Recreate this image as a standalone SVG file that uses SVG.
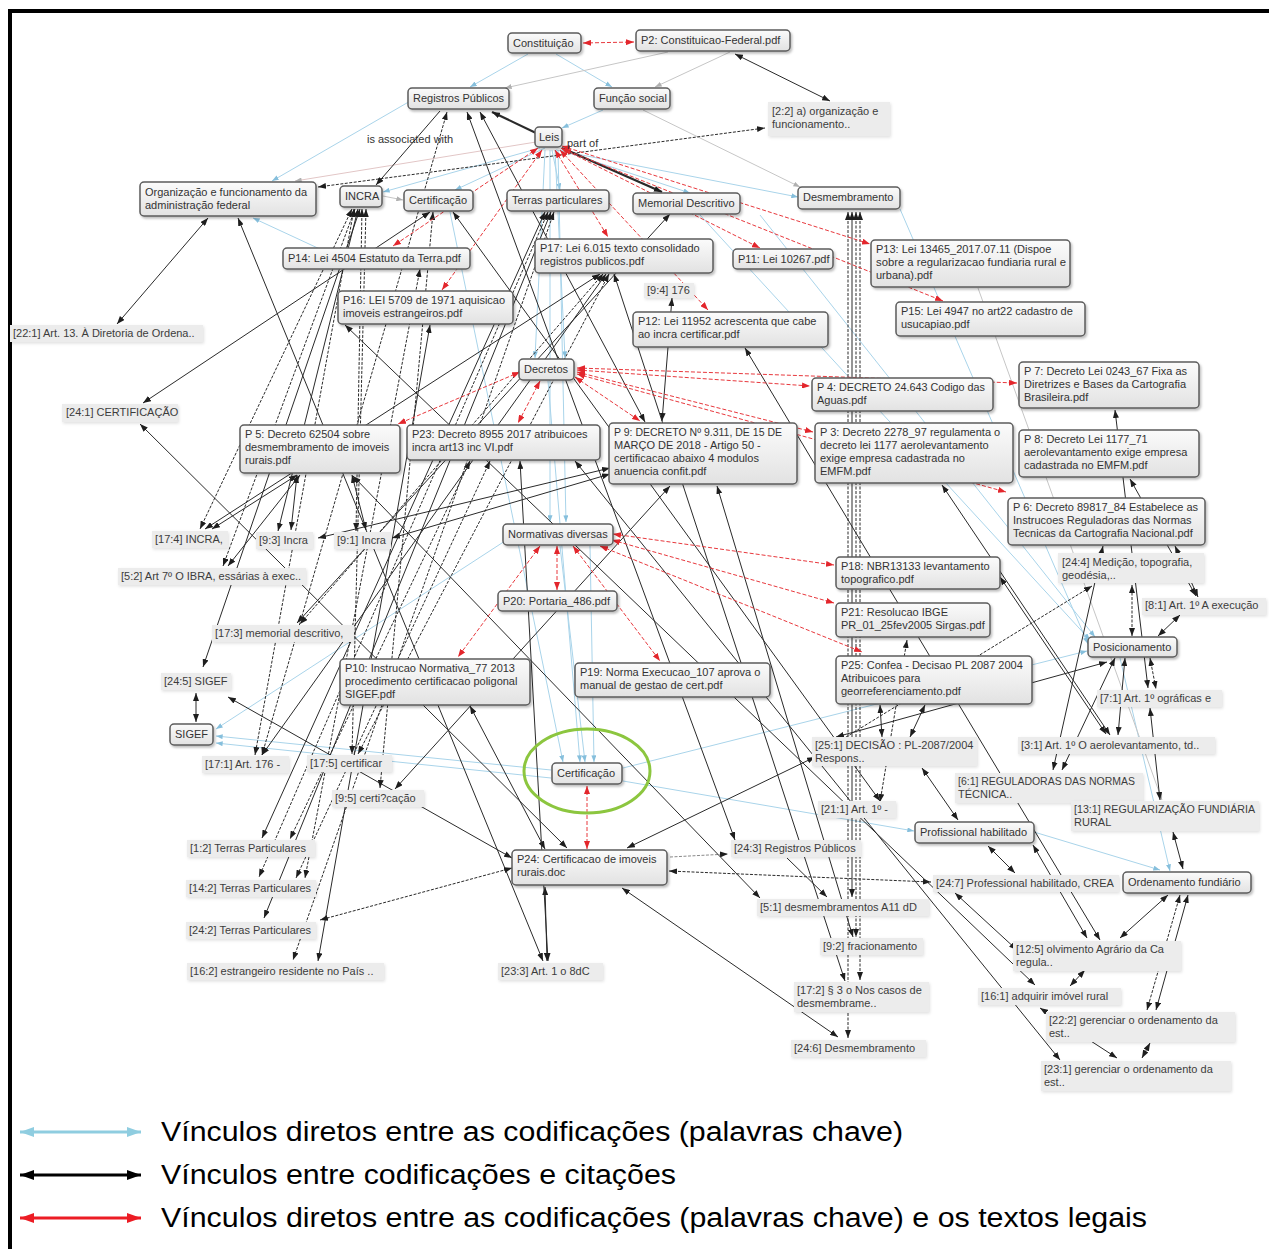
<svg xmlns="http://www.w3.org/2000/svg" width="1269" height="1249" viewBox="0 0 1269 1249">
<defs>
<linearGradient id="ng" x1="0" y1="0" x2="0" y2="1"><stop offset="0" stop-color="#fbfbfb"/><stop offset="1" stop-color="#e2e2e2"/></linearGradient>
<filter id="sh" x="-10%" y="-20%" width="130%" height="160%"><feDropShadow dx="1.5" dy="2" stdDeviation="1.2" flood-color="#000" flood-opacity="0.25"/></filter>
<filter id="sq" x="-10%" y="-20%" width="130%" height="160%"><feDropShadow dx="1" dy="1.5" stdDeviation="1.5" flood-color="#000" flood-opacity="0.12"/></filter>
<marker id="ak" viewBox="0 0 8 6" refX="8" refY="3" markerWidth="8" markerHeight="6" markerUnits="userSpaceOnUse" orient="auto-start-reverse"><path d="M0,0 L8,3 L0,6 z" fill="#1e1e1e"/></marker>
<marker id="ar" viewBox="0 0 8 6" refX="8" refY="3" markerWidth="8" markerHeight="6" markerUnits="userSpaceOnUse" orient="auto-start-reverse"><path d="M0,0 L8,3 L0,6 z" fill="#e3262c"/></marker>
<marker id="ab" viewBox="0 0 8 6" refX="8" refY="3" markerWidth="7" markerHeight="5" markerUnits="userSpaceOnUse" orient="auto-start-reverse"><path d="M0,0 L8,3 L0,6 z" fill="#86bfdc"/></marker>
<marker id="ag" viewBox="0 0 8 6" refX="8" refY="3" markerWidth="7" markerHeight="5" markerUnits="userSpaceOnUse" orient="auto-start-reverse"><path d="M0,0 L8,3 L0,6 z" fill="#b0b0b0"/></marker>
<marker id="lb" viewBox="0 0 14 10" refX="14" refY="5" markerWidth="14" markerHeight="10" markerUnits="userSpaceOnUse" orient="auto-start-reverse"><path d="M0,0 L14,5 L0,10 z" fill="#8fcde0"/></marker>
<marker id="lk" viewBox="0 0 14 10" refX="14" refY="5" markerWidth="14" markerHeight="10" markerUnits="userSpaceOnUse" orient="auto-start-reverse"><path d="M0,0 L14,5 L0,10 z" fill="#000"/></marker>
<marker id="lr" viewBox="0 0 14 10" refX="14" refY="5" markerWidth="14" markerHeight="10" markerUnits="userSpaceOnUse" orient="auto-start-reverse"><path d="M0,0 L14,5 L0,10 z" fill="#ec1c24"/></marker>
<style>
.k{stroke:#2a2a2a;stroke-width:1;fill:none;marker-start:url(#ak);marker-end:url(#ak)}
.kd{stroke-dasharray:3 1.5}
.kb{stroke-width:2.2}
.ke{marker-start:none}
.kg{stroke:#8a8a8a}
.r{stroke:#e8383d;stroke-width:1;stroke-dasharray:4 2;fill:none;marker-start:url(#ar);marker-end:url(#ar)}
.b{stroke:#a9d4ea;stroke-width:1;fill:none;marker-end:url(#ab)}
.g{stroke:#c6c6c6;stroke-width:1;fill:none;marker-end:url(#ag)}
.p{stroke:#e2c6c6;stroke-width:1;fill:none;marker-end:url(#ag)}
.n rect{fill:url(#ng);stroke:#5c5c5c;stroke-width:1.5;filter:url(#sh)}
.q rect{fill:#ececec;filter:url(#sq)}
.n text,.q text,.lbl{font-family:"Liberation Sans",Arial,sans-serif;font-size:11px;fill:#333}
.q text{fill:#3c3c3c}
.leg{font-family:"Liberation Sans",Arial,sans-serif;font-size:27px;fill:#000}
</style>
</defs>
<rect width="1269" height="1249" fill="#fff"/>
<!-- frame -->
<path d="M10,1249 V11 H1269" fill="none" stroke="#000" stroke-width="4"/>

<g id="connectors">
<g id="links-blue">
<line class="b" x1="528" y1="54" x2="470" y2="87"/>
<line class="b" x1="556" y1="54" x2="612" y2="87"/>
<line class="g" x1="668" y1="52" x2="505" y2="88"/>
<line class="g" x1="730" y1="52" x2="655" y2="87"/>
<line class="b" x1="412" y1="100" x2="272" y2="181"/>
<line class="b" x1="603" y1="110" x2="562" y2="128"/>
<line class="g" x1="643" y1="110" x2="800" y2="187"/>
<line class="b" x1="545" y1="148" x2="455" y2="190"/>
<line class="b" x1="556" y1="150" x2="798" y2="197"/>
<line class="p" x1="536" y1="142" x2="295" y2="181"/>
<line class="b" x1="322" y1="250" x2="253" y2="218"/>
<line class="b" x1="540" y1="148" x2="383" y2="192"/>
<line class="b" x1="552" y1="150" x2="560" y2="190"/>
<line class="b" x1="560" y1="150" x2="690" y2="193"/>
<line class="b" x1="545" y1="150" x2="535" y2="358"/>
<line class="b" x1="555" y1="150" x2="565" y2="358"/>
<line class="b" x1="550" y1="150" x2="550" y2="522"/>
<line class="b" x1="558" y1="150" x2="566" y2="522"/>
<line class="b" x1="548" y1="381" x2="580" y2="762"/>
<line class="b" x1="560" y1="546" x2="585" y2="762"/>
<line class="b" x1="590" y1="546" x2="594" y2="762"/>
<line class="b" x1="450" y1="212" x2="563" y2="762"/>
<line class="b" x1="551" y1="770" x2="216" y2="736"/>
<line class="b" x1="505" y1="541" x2="216" y2="729"/>
<line class="b" x1="551" y1="778" x2="216" y2="743"/>
<line class="b" x1="623" y1="768" x2="1087" y2="651"/>
<line class="b" x1="623" y1="781" x2="914" y2="831"/>
<line class="b" x1="760" y1="215" x2="1095" y2="637"/>
<line class="b" x1="700" y1="215" x2="1090" y2="640"/>
<line class="b" x1="900" y1="209" x2="1088" y2="644"/>
<line class="b" x1="1120" y1="658" x2="1170" y2="871"/>
<line class="b" x1="1034" y1="832" x2="1160" y2="870"/>
<line class="g" x1="383" y1="196" x2="403" y2="200"/>
<line class="g" x1="978" y1="288" x2="1162" y2="800"/>
</g>
<g id="links-black">
<line class="k" x1="735" y1="54" x2="830" y2="101"/>
<line class="k kd" x1="318" y1="187" x2="765" y2="128"/>
<line class="k ke" x1="440" y1="111" x2="376" y2="185"/>
<line class="k ke kb" x1="536" y1="133" x2="492" y2="112"/>
<line class="k ke kb" x1="562" y1="148" x2="662" y2="192"/>
<line class="k" x1="208" y1="218" x2="117" y2="324"/>
<line class="k" x1="238" y1="218" x2="543" y2="961"/>
<line class="k" x1="430" y1="212" x2="143" y2="403"/>
<line class="k" x1="140" y1="424" x2="567" y2="848"/>
<line class="k" x1="297" y1="475" x2="212" y2="529"/>
<line class="k" x1="297" y1="475" x2="291" y2="530"/>
<line class="k" x1="352" y1="475" x2="366" y2="530"/>
<line class="k" x1="300" y1="475" x2="228" y2="566"/>
<line class="k kd" x1="352" y1="209" x2="200" y2="529"/>
<line class="k kd" x1="355" y1="209" x2="223" y2="566"/>
<line class="k" x1="358" y1="209" x2="278" y2="531"/>
<line class="k kd" x1="362" y1="209" x2="356" y2="531"/>
<line class="k" x1="360" y1="209" x2="203" y2="667"/>
<line class="k kd" x1="354" y1="209" x2="255" y2="755"/>
<line class="k kd" x1="366" y1="209" x2="352" y2="754"/>
<line class="k" x1="610" y1="468" x2="318" y2="538"/>
<line class="k" x1="610" y1="474" x2="392" y2="538"/>
<line class="k" x1="600" y1="274" x2="205" y2="529"/>
<line class="k" x1="670" y1="214" x2="297" y2="623"/>
<line class="k kd" x1="603" y1="274" x2="300" y2="624"/>
<line class="k" x1="606" y1="274" x2="262" y2="755"/>
<line class="k kd" x1="609" y1="274" x2="358" y2="754"/>
<line class="k" x1="614" y1="274" x2="845" y2="981"/>
<line class="k" x1="545" y1="212" x2="262" y2="838"/>
<line class="k kd" x1="548" y1="212" x2="259" y2="877"/>
<line class="k" x1="551" y1="212" x2="264" y2="918"/>
<line class="k kd" x1="554" y1="212" x2="293" y2="960"/>
<line class="k kd" x1="420" y1="269" x2="305" y2="878"/>
<line class="k" x1="430" y1="325" x2="318" y2="961"/>
<line class="k kd" x1="470" y1="461" x2="290" y2="839"/>
<line class="k kd" x1="490" y1="461" x2="296" y2="878"/>
<line class="k" x1="470" y1="706" x2="545" y2="849"/>
<line class="k kd" x1="512" y1="868" x2="320" y2="920"/>
<line class="k" x1="228" y1="697" x2="512" y2="858"/>
<line class="k" x1="196" y1="693" x2="196" y2="722"/>
<line class="k kd" x1="433" y1="212" x2="380" y2="788"/>
<line class="k" x1="670" y1="486" x2="395" y2="789"/>
<line class="k" x1="545" y1="887" x2="547" y2="961"/>
<line class="k ke kd kg" x1="670" y1="857" x2="728" y2="854"/>
<line class="k kd" x1="669" y1="871" x2="931" y2="882"/>
<line class="k" x1="622" y1="888" x2="838" y2="1037"/>
<line class="k ke" x1="787" y1="858" x2="827" y2="897"/>
<line class="k kd" x1="848" y1="212" x2="848" y2="1038"/>
<line class="k" x1="852" y1="212" x2="852" y2="897"/>
<line class="k kd" x1="856" y1="212" x2="856" y2="937"/>
<line class="k kd" x1="860" y1="212" x2="860" y2="980"/>
<line class="k" x1="353" y1="476" x2="760" y2="898"/>
<line class="k" x1="717" y1="486" x2="853" y2="937"/>
<line class="k" x1="745" y1="348" x2="1100" y2="940"/>
<line class="k" x1="672" y1="298" x2="662" y2="421"/>
<line class="k" x1="942" y1="485" x2="1110" y2="735"/>
<line class="k" x1="1130" y1="479" x2="1196" y2="596"/>
<line class="k" x1="1115" y1="410" x2="1148" y2="688"/>
<line class="k" x1="1103" y1="546" x2="1053" y2="770"/>
<line class="k" x1="1115" y1="658" x2="1062" y2="770"/>
<line class="k" x1="1125" y1="658" x2="1118" y2="735"/>
<line class="k kd" x1="1150" y1="658" x2="1156" y2="689"/>
<line class="k kd" x1="1132" y1="636" x2="1132" y2="585"/>
<line class="k" x1="1180" y1="615" x2="1158" y2="636"/>
<line class="k" x1="1175" y1="546" x2="1198" y2="597"/>
<line class="k" x1="880" y1="705" x2="882" y2="737"/>
<line class="k" x1="925" y1="705" x2="910" y2="737"/>
<line class="k" x1="836" y1="737" x2="1107" y2="662"/>
<line class="k kd" x1="838" y1="742" x2="1092" y2="586"/>
<line class="k" x1="815" y1="757" x2="627" y2="848"/>
<line class="k" x1="922" y1="768" x2="958" y2="820"/>
<line class="k kd" x1="907" y1="640" x2="880" y2="802"/>
<line class="k" x1="1000" y1="577" x2="1106" y2="734"/>
<line class="k" x1="1150" y1="708" x2="1160" y2="800"/>
<line class="k" x1="1173" y1="832" x2="1183" y2="869"/>
<line class="k" x1="988" y1="846" x2="1015" y2="873"/>
<line class="k" x1="1033" y1="845" x2="1087" y2="938"/>
<line class="k" x1="1168" y1="895" x2="1120" y2="938"/>
<line class="k kd" x1="1180" y1="895" x2="1147" y2="1010"/>
<line class="k" x1="1188" y1="895" x2="1156" y2="1010"/>
<line class="k" x1="955" y1="893" x2="1017" y2="950"/>
<line class="k" x1="345" y1="325" x2="1035" y2="985"/>
<line class="k" x1="1085" y1="970" x2="1070" y2="986"/>
<line class="k" x1="1040" y1="1008" x2="1117" y2="1058"/>
<line class="k" x1="1150" y1="1043" x2="1142" y2="1058"/>
<line class="k" x1="520" y1="461" x2="548" y2="961"/>
<line class="k" x1="575" y1="461" x2="1060" y2="1060"/>
<line class="k" x1="453" y1="212" x2="880" y2="801"/>
<line class="k" x1="467" y1="112" x2="735" y2="840"/>
<line class="k kd" x1="262" y1="755" x2="447" y2="112"/>
<line class="k" x1="480" y1="112" x2="645" y2="422"/>
</g>
<g id="links-red">
<line class="r" x1="583" y1="43" x2="634" y2="42"/>
<line class="r" x1="562" y1="146" x2="870" y2="244"/>
<line class="r" x1="563" y1="149" x2="943" y2="301"/>
<line class="r" x1="560" y1="150" x2="708" y2="310"/>
<line class="r" x1="561" y1="148" x2="760" y2="248"/>
<line class="r" x1="555" y1="150" x2="608" y2="237"/>
<line class="r" x1="538" y1="148" x2="393" y2="246"/>
<line class="r" x1="542" y1="150" x2="442" y2="290"/>
<line class="r" x1="577" y1="370" x2="810" y2="386"/>
<line class="r" x1="577" y1="372" x2="813" y2="432"/>
<line class="r" x1="577" y1="368" x2="1017" y2="383"/>
<line class="r" x1="577" y1="374" x2="1006" y2="492"/>
<line class="r" x1="575" y1="377" x2="640" y2="421"/>
<line class="r" x1="540" y1="381" x2="518" y2="423"/>
<line class="r" x1="520" y1="372" x2="398" y2="424"/>
<line class="r" x1="613" y1="534" x2="834" y2="565"/>
<line class="r" x1="612" y1="540" x2="834" y2="603"/>
<line class="r" x1="600" y1="546" x2="862" y2="652"/>
<line class="r" x1="557" y1="546" x2="557" y2="590"/>
<line class="r" x1="540" y1="546" x2="458" y2="657"/>
<line class="r" x1="573" y1="546" x2="660" y2="661"/>
<line class="r" x1="587" y1="849" x2="587" y2="786"/>
</g>
<text class="lbl" x="367" y="143">is associated with</text>
<text class="lbl" x="567" y="147">part of</text>
</g>

<!-- code and document nodes -->
<g id="n-constituicao" class="n"><rect x="508" y="33" width="73" height="20" rx="4"/><text x="513" y="47">Constituição</text></g>
<g id="n-p2" class="n"><rect x="636" y="30" width="154" height="21" rx="4"/><text x="641" y="44">P2: Constituicao-Federal.pdf</text></g>
<g id="n-registros" class="n"><rect x="408" y="88" width="101" height="21" rx="4"/><text x="413" y="102">Registros Públicos</text></g>
<g id="n-funcao" class="n"><rect x="594" y="88" width="76" height="21" rx="4"/><text x="599" y="102">Função social</text></g>
<g id="n-leis" class="n"><rect x="535" y="127" width="27" height="20" rx="4"/><text x="539" y="141">Leis</text></g>
<g id="n-organizacao" class="n"><rect x="140" y="182" width="176" height="34" rx="4"/><text x="145" y="196">Organização e funcionamento da<tspan x="145" dy="13">administração federal</tspan></text></g>
<g id="n-incra" class="n"><rect x="340" y="186" width="42" height="21" rx="4"/><text x="345" y="200">INCRA</text></g>
<g id="n-certificacao-top" class="n"><rect x="404" y="190" width="69" height="21" rx="4"/><text x="409" y="204">Certificação</text></g>
<g id="n-terras" class="n"><rect x="507" y="190" width="102" height="21" rx="4"/><text x="512" y="204">Terras particulares</text></g>
<g id="n-memorial" class="n"><rect x="633" y="193" width="107" height="21" rx="4"/><text x="638" y="207">Memorial Descritivo</text></g>
<g id="n-desmembramento" class="n"><rect x="798" y="187" width="102" height="22" rx="4"/><text x="803" y="201">Desmembramento</text></g>
<g id="n-p14" class="n"><rect x="283" y="248" width="187" height="21" rx="4"/><text x="288" y="262">P14: Lei 4504 Estatuto da Terra.pdf</text></g>
<g id="n-p17" class="n"><rect x="535" y="239" width="178" height="34" rx="4"/><text x="540" y="252">P17: Lei 6.015 texto consolidado<tspan x="540" dy="13">registros publicos.pdf</tspan></text></g>
<g id="n-p11" class="n"><rect x="733" y="249" width="100" height="20" rx="4"/><text x="738" y="263">P11: Lei 10267.pdf</text></g>
<g id="n-p13" class="n"><rect x="871" y="240" width="199" height="47" rx="4"/><text x="876" y="253">P13: Lei 13465_2017.07.11 (Dispoe<tspan x="876" dy="13" textLength="190" lengthAdjust="spacingAndGlyphs">sobre a regularizacao fundiaria rural e</tspan><tspan x="876" dy="13">urbana).pdf</tspan></text></g>
<g id="n-p16" class="n"><rect x="338" y="291" width="175" height="33" rx="4"/><text x="343" y="304">P16: LEI 5709 de 1971 aquisicao<tspan x="343" dy="13">imoveis estrangeiros.pdf</tspan></text></g>
<g id="n-p12" class="n"><rect x="633" y="312" width="195" height="35" rx="4"/><text x="638" y="325">P12: Lei 11952 acrescenta que cabe<tspan x="638" dy="13">ao incra certificar.pdf</tspan></text></g>
<g id="n-p15" class="n"><rect x="896" y="302" width="189" height="34" rx="4"/><text x="901" y="315">P15: Lei 4947 no art22 cadastro de<tspan x="901" dy="13">usucapiao.pdf</tspan></text></g>
<g id="n-decretos" class="n"><rect x="519" y="359" width="55" height="21" rx="4"/><text x="524" y="373">Decretos</text></g>
<g id="n-p4" class="n"><rect x="812" y="378" width="181" height="33" rx="4"/><text x="817" y="391" textLength="168" lengthAdjust="spacingAndGlyphs">P 4: DECRETO 24.643 Codigo das</text><text x="817" y="404">Aguas.pdf</text></g>
<g id="n-p7" class="n"><rect x="1019" y="362" width="180" height="46" rx="4"/><text x="1024" y="375">P 7: Decreto Lei 0243_67 Fixa as<tspan x="1024" dy="13">Diretrizes e Bases da Cartografia</tspan><tspan x="1024" dy="13">Brasileira.pdf</tspan></text></g>
<g id="n-p5" class="n"><rect x="240" y="425" width="160" height="48" rx="4"/><text x="245" y="438">P 5: Decreto 62504 sobre<tspan x="245" dy="13">desmembramento de imoveis</tspan><tspan x="245" dy="13">rurais.pdf</tspan></text></g>
<g id="n-p23" class="n"><rect x="407" y="425" width="193" height="35" rx="4"/><text x="412" y="438">P23: Decreto 8955 2017 atribuicoes<tspan x="412" dy="13">incra art13 inc VI.pdf</tspan></text></g>
<g id="n-p9" class="n"><rect x="609" y="423" width="188" height="61" rx="4"/><text x="614" y="436" textLength="168" lengthAdjust="spacingAndGlyphs">P 9: DECRETO Nº 9.311, DE 15 DE</text><text x="614" y="449">MARÇO DE 2018 - Artigo 50 -<tspan x="614" dy="13">certificacao abaixo 4 modulos</tspan><tspan x="614" dy="13">anuencia confit.pdf</tspan></text></g>
<g id="n-p3" class="n"><rect x="815" y="423" width="198" height="60" rx="4"/><text x="820" y="436">P 3: Decreto 2278_97 regulamenta o<tspan x="820" dy="13">decreto lei 1177 aerolevantamento</tspan><tspan x="820" dy="13">exige empresa cadastrada no</tspan><tspan x="820" dy="13">EMFM.pdf</tspan></text></g>
<g id="n-p8" class="n"><rect x="1019" y="430" width="180" height="47" rx="4"/><text x="1024" y="443">P 8: Decreto Lei 1177_71<tspan x="1024" dy="13">aerolevantamento exige empresa</tspan><tspan x="1024" dy="13">cadastrada no EMFM.pdf</tspan></text></g>
<g id="n-p6" class="n"><rect x="1008" y="498" width="197" height="47" rx="4"/><text x="1013" y="511">P 6: Decreto 89817_84 Estabelece as<tspan x="1013" dy="13">Instrucoes Reguladoras das Normas</tspan><tspan x="1013" dy="13">Tecnicas da Cartografia Nacional.pdf</tspan></text></g>
<g id="n-normativas" class="n"><rect x="503" y="524" width="110" height="21" rx="4"/><text x="508" y="538">Normativas diversas</text></g>
<g id="n-p18" class="n"><rect x="836" y="557" width="164" height="32" rx="4"/><text x="841" y="570">P18: NBR13133 levantamento<tspan x="841" dy="13">topografico.pdf</tspan></text></g>
<g id="n-p20" class="n"><rect x="498" y="591" width="119" height="20" rx="4"/><text x="503" y="605">P20: Portaria_486.pdf</text></g>
<g id="n-p21" class="n"><rect x="836" y="603" width="154" height="34" rx="4"/><text x="841" y="616">P21: Resolucao IBGE<tspan x="841" dy="13">PR_01_25fev2005 Sirgas.pdf</tspan></text></g>
<g id="n-posicionamento" class="n"><rect x="1088" y="637" width="89" height="20" rx="4"/><text x="1093" y="651">Posicionamento</text></g>
<g id="n-p10" class="n"><rect x="340" y="659" width="190" height="46" rx="4"/><text x="345" y="672">P10: Instrucao Normativa_77 2013<tspan x="345" dy="13">procedimento certificacao poligonal</tspan><tspan x="345" dy="13">SIGEF.pdf</tspan></text></g>
<g id="n-p19" class="n"><rect x="575" y="663" width="195" height="34" rx="4"/><text x="580" y="676">P19: Norma Execucao_107 aprova o<tspan x="580" dy="13">manual de gestao de cert.pdf</tspan></text></g>
<g id="n-p25" class="n"><rect x="836" y="656" width="196" height="48" rx="4"/><text x="841" y="669">P25: Confea - Decisao PL 2087 2004<tspan x="841" dy="13">Atribuicoes para</tspan><tspan x="841" dy="13">georreferenciamento.pdf</tspan></text></g>
<g id="n-sigef" class="n"><rect x="170" y="724" width="43" height="21" rx="4"/><text x="175" y="738">SIGEF</text></g>
<g id="n-certificacao" class="n"><rect x="552" y="763" width="70" height="21" rx="4"/><text x="557" y="777">Certificação</text></g>
<g id="n-profissional" class="n"><rect x="915" y="822" width="119" height="21" rx="4"/><text x="920" y="836">Profissional habilitado</text></g>
<g id="n-p24" class="n"><rect x="512" y="850" width="155" height="35" rx="4"/><text x="517" y="863">P24: Certificacao de imoveis<tspan x="517" dy="13">rurais.doc</tspan></text></g>
<g id="n-ordenamento" class="n"><rect x="1123" y="872" width="128" height="21" rx="4"/><text x="1128" y="886">Ordenamento fundiário</text></g>

<!-- quotations -->
<g id="q-2-2" class="q"><rect x="768" y="102" width="122" height="34"/><text x="772" y="115">[2:2] a) organização e<tspan x="772" dy="13">funcionamento..</tspan></text></g>
<g id="q-9-4" class="q"><rect x="644" y="283" width="50" height="15"/><text x="647" y="294">[9:4] 176</text></g>
<g id="q-22-1" class="q"><rect x="10" y="325" width="193" height="17"/><text x="13" y="337">[22:1] Art. 13. À Diretoria de Ordena..</text></g>
<g id="q-24-1" class="q"><rect x="62" y="404" width="116" height="18"/><text x="66" y="416">[24:1] CERTIFICAÇÃO</text></g>
<g id="q-17-4" class="q"><rect x="152" y="531" width="76" height="17"/><text x="155" y="543">[17:4] INCRA,</text></g>
<g id="q-9-3" class="q"><rect x="256" y="532" width="57" height="17"/><text x="259" y="544">[9:3] Incra</text></g>
<g id="q-9-1" class="q"><rect x="334" y="532" width="57" height="17"/><text x="337" y="544">[9:1] Incra</text></g>
<g id="q-5-2" class="q"><rect x="118" y="568" width="188" height="17"/><text x="121" y="580">[5:2] Art 7º O IBRA, essárias à exec..</text></g>
<g id="q-24-4" class="q"><rect x="1058" y="553" width="146" height="30"/><text x="1062" y="566">[24:4] Medição, topografia,<tspan x="1062" dy="13">geodésia,..</tspan></text></g>
<g id="q-8-1" class="q"><rect x="1142" y="598" width="124" height="17"/><text x="1145" y="609">[8:1] Art. 1º A execução</text></g>
<g id="q-17-3" class="q"><rect x="212" y="625" width="142" height="17"/><text x="215" y="637">[17:3] memorial descritivo,</text></g>
<g id="q-24-5" class="q"><rect x="161" y="673" width="70" height="17"/><text x="164" y="685">[24:5] SIGEF</text></g>
<g id="q-7-1" class="q"><rect x="1097" y="690" width="125" height="17"/><text x="1100" y="702">[7:1] Art. 1º ográficas e</text></g>
<g id="q-25-1" class="q"><rect x="812" y="737" width="165" height="29"/><text x="815" y="749">[25:1] DECISÃO : PL-2087/2004<tspan x="815" dy="13">Respons..</tspan></text></g>
<g id="q-3-1" class="q"><rect x="1018" y="737" width="197" height="17"/><text x="1021" y="749">[3:1] Art. 1º O aerolevantamento, td..</text></g>
<g id="q-17-1" class="q"><rect x="202" y="756" width="87" height="17"/><text x="205" y="768">[17:1] Art. 176 -</text></g>
<g id="q-17-5" class="q"><rect x="307" y="755" width="85" height="17"/><text x="310" y="767">[17:5] certificar</text></g>
<g id="q-6-1" class="q"><rect x="955" y="773" width="188" height="30"/><text x="958" y="785" textLength="177" lengthAdjust="spacingAndGlyphs">[6:1] REGULADORAS DAS NORMAS</text><text x="958" y="798">TÉCNICA..</text></g>
<g id="q-9-5" class="q"><rect x="332" y="790" width="92" height="17"/><text x="335" y="802">[9:5] certi?cação</text></g>
<g id="q-21-1" class="q"><rect x="818" y="801" width="78" height="17"/><text x="821" y="813">[21:1] Art. 1º -</text></g>
<g id="q-13-1" class="q"><rect x="1071" y="801" width="188" height="30"/><text x="1074" y="813" textLength="181" lengthAdjust="spacingAndGlyphs">[13:1] REGULARIZAÇÃO FUNDIÁRIA</text><text x="1074" y="826">RURAL</text></g>
<g id="q-1-2" class="q"><rect x="187" y="840" width="128" height="17"/><text x="190" y="852">[1:2] Terras Particulares</text></g>
<g id="q-24-3" class="q"><rect x="731" y="840" width="130" height="17"/><text x="734" y="852">[24:3] Registros Públicos</text></g>
<g id="q-24-7" class="q"><rect x="933" y="875" width="186" height="17"/><text x="936" y="887">[24:7] Professional habilitado, CREA</text></g>
<g id="q-14-2" class="q"><rect x="186" y="880" width="130" height="17"/><text x="189" y="892">[14:2] Terras Particulares</text></g>
<g id="q-5-1" class="q"><rect x="757" y="899" width="172" height="17"/><text x="760" y="911">[5:1] desmembramentos A11 dD</text></g>
<g id="q-24-2" class="q"><rect x="186" y="922" width="130" height="17"/><text x="189" y="934">[24:2] Terras Particulares</text></g>
<g id="q-9-2" class="q"><rect x="820" y="938" width="103" height="17"/><text x="823" y="950">[9:2] fracionamento</text></g>
<g id="q-12-5" class="q"><rect x="1013" y="941" width="168" height="30"/><text x="1016" y="953">[12:5] olvimento Agrário da Ca<tspan x="1016" dy="13">regula..</tspan></text></g>
<g id="q-23-3" class="q"><rect x="498" y="963" width="105" height="17"/><text x="501" y="975">[23:3] Art. 1 o 8dC</text></g>
<g id="q-16-2" class="q"><rect x="187" y="963" width="197" height="17"/><text x="190" y="975">[16:2] estrangeiro residente no País ..</text></g>
<g id="q-17-2" class="q"><rect x="794" y="982" width="135" height="30"/><text x="797" y="994">[17:2] § 3 o Nos casos de<tspan x="797" dy="13">desmembrame..</tspan></text></g>
<g id="q-16-1" class="q"><rect x="978" y="988" width="143" height="17"/><text x="981" y="1000">[16:1] adquirir imóvel rural</text></g>
<g id="q-22-2" class="q"><rect x="1046" y="1012" width="189" height="30"/><text x="1049" y="1024">[22:2] gerenciar o ordenamento da<tspan x="1049" dy="13">est..</tspan></text></g>
<g id="q-24-6" class="q"><rect x="791" y="1040" width="135" height="17"/><text x="794" y="1052">[24:6] Desmembramento</text></g>
<g id="q-23-1" class="q"><rect x="1041" y="1061" width="190" height="30"/><text x="1044" y="1073">[23:1] gerenciar o ordenamento da<tspan x="1044" dy="13">est..</tspan></text></g>

<!-- highlight around the Certificação code -->
<ellipse cx="587" cy="771" rx="63" ry="42" fill="none" stroke="#8cc63f" stroke-width="3"/>

<!-- legend -->
<g id="legend">
<line x1="20" y1="1132" x2="141" y2="1132" stroke="#8fcde0" stroke-width="3" marker-start="url(#lb)" marker-end="url(#lb)"/>
<text class="leg" x="161" y="1141" textLength="742" lengthAdjust="spacingAndGlyphs">Vínculos diretos entre as codificações (palavras chave)</text>
<line x1="20" y1="1175" x2="141" y2="1175" stroke="#000" stroke-width="3" marker-start="url(#lk)" marker-end="url(#lk)"/>
<text class="leg" x="161" y="1184" textLength="515" lengthAdjust="spacingAndGlyphs">Vínculos entre codificações e citações</text>
<line x1="20" y1="1218" x2="141" y2="1218" stroke="#ec1c24" stroke-width="3" marker-start="url(#lr)" marker-end="url(#lr)"/>
<text class="leg" x="161" y="1227" textLength="986" lengthAdjust="spacingAndGlyphs">Vínculos diretos entre as codificações (palavras chave) e os textos legais</text>
</g>
</svg>
